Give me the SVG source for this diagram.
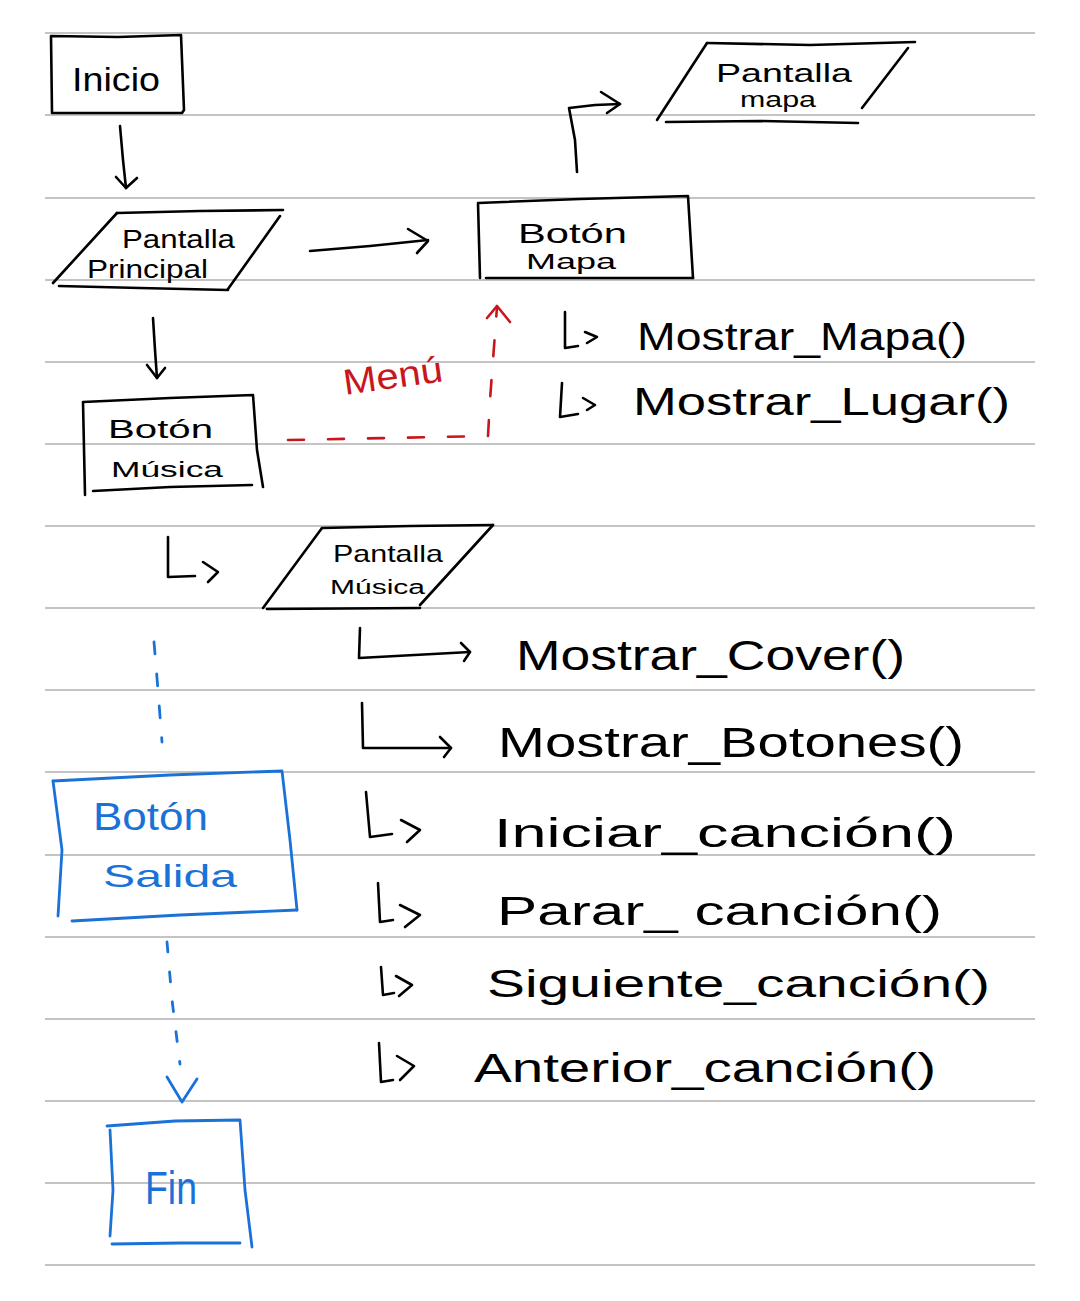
<svg xmlns="http://www.w3.org/2000/svg" width="1080" height="1301" viewBox="0 0 1080 1301">
<defs>
<style>
.rule{stroke:#c4c4c4;stroke-width:2;fill:none}
.ink{stroke:#000;stroke-width:2.6;fill:none;stroke-linecap:round;stroke-linejoin:round}
.red{stroke:#c8161d;stroke-width:2.6;fill:none;stroke-linecap:round;stroke-linejoin:round}
.blue{stroke:#1a72d8;stroke-width:2.8;fill:none;stroke-linecap:round;stroke-linejoin:round}
.t{font-family:"Liberation Sans","DejaVu Sans",sans-serif;fill:#000;font-weight:normal}
.tb{font-family:"Liberation Sans","DejaVu Sans",sans-serif;fill:#1a72d8}
.tr{font-family:"Liberation Sans","DejaVu Sans",sans-serif;fill:#c8161d}
</style>
</defs>
<rect x="0" y="0" width="1080" height="1301" fill="#fff"/>
<g id="ruled-lines">
<line class="rule" x1="45" y1="33" x2="1035" y2="33"/>
<line class="rule" x1="45" y1="115" x2="1035" y2="115"/>
<line class="rule" x1="45" y1="198" x2="1035" y2="198"/>
<line class="rule" x1="45" y1="280" x2="1035" y2="280"/>
<line class="rule" x1="45" y1="362" x2="1035" y2="362"/>
<line class="rule" x1="45" y1="444" x2="1035" y2="444"/>
<line class="rule" x1="45" y1="526" x2="1035" y2="526"/>
<line class="rule" x1="45" y1="608" x2="1035" y2="608"/>
<line class="rule" x1="45" y1="690" x2="1035" y2="690"/>
<line class="rule" x1="45" y1="772" x2="1035" y2="772"/>
<line class="rule" x1="45" y1="855" x2="1035" y2="855"/>
<line class="rule" x1="45" y1="937" x2="1035" y2="937"/>
<line class="rule" x1="45" y1="1019" x2="1035" y2="1019"/>
<line class="rule" x1="45" y1="1101" x2="1035" y2="1101"/>
<line class="rule" x1="45" y1="1183" x2="1035" y2="1183"/>
<line class="rule" x1="45" y1="1265" x2="1035" y2="1265"/>
</g>
<g id="node-inicio">
<path class="ink" d="M51 36 L118 37 L181 35 L184 110 L182 113 L52 113 L51 36"/>
<text class="t" x="72" y="91" font-size="34" textLength="88" lengthAdjust="spacingAndGlyphs">Inicio</text>
</g>
<g id="node-pantalla-principal">
<path class="ink" d="M117 213 L200 211 L283 210"/>
<path class="ink" d="M117 213 L53 283"/>
<path class="ink" d="M280 216 L228 289"/>
<path class="ink" d="M59 286 L140 288 L228 290"/>
<text class="t" x="122" y="248" font-size="26" textLength="113" lengthAdjust="spacingAndGlyphs">Pantalla</text>
<text class="t" x="87" y="278" font-size="26" textLength="121" lengthAdjust="spacingAndGlyphs">Principal</text>
</g>
<g id="node-boton-mapa">
<path class="ink" d="M480 278 L478 203 L580 199 L688 196 L693 278"/>
<path class="ink" d="M486 278 L693 278"/>
<text class="t" x="518" y="243" font-size="28" textLength="109" lengthAdjust="spacingAndGlyphs">Botón</text>
<text class="t" x="526" y="269" font-size="22" textLength="90" lengthAdjust="spacingAndGlyphs">Mapa</text>
</g>
<g id="node-pantalla-mapa">
<path class="ink" d="M707 43 L810 45 L915 42"/>
<path class="ink" d="M707 43 L657 120"/>
<path class="ink" d="M908 48 L862 108"/>
<path class="ink" d="M666 122 L760 121 L858 123"/>
<text class="t" x="716" y="82" font-size="26" textLength="136" lengthAdjust="spacingAndGlyphs">Pantalla</text>
<text class="t" x="740" y="107" font-size="22" textLength="76" lengthAdjust="spacingAndGlyphs">mapa</text>
</g>
<g id="node-boton-musica">
<path class="ink" d="M85 495 L83 402 L170 398 L253 395 L257 450 L263 487"/>
<path class="ink" d="M93 491 L170 487 L252 485"/>
<text class="t" x="108" y="438" font-size="26" textLength="105" lengthAdjust="spacingAndGlyphs">Botón</text>
<text class="t" x="111" y="477" font-size="22" textLength="112" lengthAdjust="spacingAndGlyphs">Música</text>
</g>
<g id="node-pantalla-musica">
<path class="ink" d="M322 528 L410 526 L493 525"/>
<path class="ink" d="M322 528 L263 608"/>
<path class="ink" d="M493 525 L420 605"/>
<path class="ink" d="M267 609 L420 608"/>
<text class="t" x="333" y="562" font-size="24" textLength="110" lengthAdjust="spacingAndGlyphs">Pantalla</text>
<text class="t" x="330" y="594" font-size="20" textLength="95" lengthAdjust="spacingAndGlyphs">Música</text>
</g>
<g id="node-boton-salida">
<path class="blue" d="M53 781 L170 775 L282 771 L290 840 L297 910"/>
<path class="blue" d="M53 781 L62 850 L58 916"/>
<path class="blue" d="M72 921 L180 915 L297 910"/>
<text class="tb" x="93" y="830" font-size="38" textLength="115" lengthAdjust="spacingAndGlyphs">Botón</text>
<text class="tb" x="103" y="887" font-size="32" textLength="134" lengthAdjust="spacingAndGlyphs">Salida</text>
</g>
<g id="node-fin">
<path class="blue" d="M107 1126 L175 1121 L240 1120 L245 1190 L252 1247"/>
<path class="blue" d="M110 1130 L113 1190 L110 1236"/>
<path class="blue" d="M112 1244 L180 1243 L240 1243"/>
<text class="tb" x="145" y="1204" font-size="46" textLength="52" lengthAdjust="spacingAndGlyphs">Fin</text>
</g>
<g id="methods">
<text class="t" x="637" y="350" font-size="38" textLength="330" lengthAdjust="spacingAndGlyphs">Mostrar_Mapa()</text>
<text class="t" x="633" y="415" font-size="38" textLength="377" lengthAdjust="spacingAndGlyphs">Mostrar_Lugar()</text>
<text class="t" x="516" y="670" font-size="42" textLength="389" lengthAdjust="spacingAndGlyphs">Mostrar_Cover()</text>
<text class="t" x="498" y="757" font-size="42" textLength="466" lengthAdjust="spacingAndGlyphs">Mostrar_Botones()</text>
<text class="t" x="494" y="847" font-size="40" textLength="462" lengthAdjust="spacingAndGlyphs">Iniciar_canción()</text>
<text class="t" x="497" y="925" font-size="40" textLength="445" lengthAdjust="spacingAndGlyphs">Parar_ canción()</text>
<text class="t" x="487" y="997" font-size="38" textLength="503" lengthAdjust="spacingAndGlyphs">Siguiente_canción()</text>
<text class="t" x="474" y="1082" font-size="40" textLength="462" lengthAdjust="spacingAndGlyphs">Anterior_canción()</text>
</g>
<g id="connectors">
<path class="ink" d="M120 126 L123 160 L126 188"/>
<path class="ink" d="M116 177 L126 188 L137 178"/>
<path class="ink" d="M310 251 L370 246 L428 240"/>
<path class="ink" d="M408 229 L428 241 L417 253"/>
<path class="ink" d="M577 172 L575 140 L569 108 L595 105 L620 104"/>
<path class="ink" d="M601 92 L620 104 L607 113"/>
<path class="ink" d="M153 318 L155 350 L157 378"/>
<path class="ink" d="M147 365 L157 378 L165 368"/>
<path class="red" stroke-dasharray="16 24" d="M288 440 L488 436 L490 400 L497 307"/>
<path class="red" d="M487 318 L497 306 L510 322"/>
<text class="tr" x="345" y="395" font-size="36" transform="rotate(-8 345 395)" textLength="100" lengthAdjust="spacingAndGlyphs">Menú</text>
<path class="ink" d="M565 312 L565 348 L578 346"/>
<path class="ink" d="M585 332 L597 337 L587 343"/>
<path class="ink" d="M562 383 L560 417 L578 414"/>
<path class="ink" d="M583 398 L595 405 L587 410"/>
<path class="ink" d="M168 537 L168 577 L195 576"/>
<path class="ink" d="M203 562 L218 572 L208 582"/>
<path class="ink" d="M360 628 L359 658 L470 652"/>
<path class="ink" d="M461 643 L470 652 L464 661"/>
<path class="ink" d="M362 703 L363 748 L451 748"/>
<path class="ink" d="M440 737 L451 748 L444 757"/>
<path class="ink" d="M366 792 L370 837 L392 834"/>
<path class="ink" d="M401 820 L420 830 L407 842"/>
<path class="ink" d="M378 883 L380 922 L393 920"/>
<path class="ink" d="M400 905 L420 915 L405 927"/>
<path class="ink" d="M381 967 L383 995 L394 993"/>
<path class="ink" d="M396 976 L412 985 L399 996"/>
<path class="ink" d="M379 1043 L381 1082 L393 1080"/>
<path class="ink" d="M397 1056 L414 1066 L400 1080"/>
<path class="blue" stroke-dasharray="12 20" d="M154 642 L158 690 L162 742"/>
<path class="blue" stroke-dasharray="10 20" d="M167 942 L172 1000 L180 1064"/>
<path class="blue" d="M167 1077 L182 1102 L197 1079"/>
</g>
</svg>
